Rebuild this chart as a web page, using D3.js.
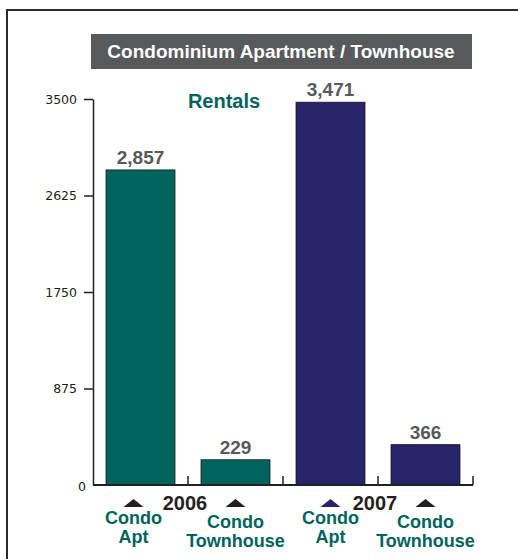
<!DOCTYPE html>
<html>
<head>
<meta charset="utf-8">
<script src="https://cdn.jsdelivr.net/npm/d3@7"></script>
<style>
  body { margin: 0; background: #fff; }
  text { font-family: "Liberation Sans", Arial, sans-serif; }
</style>
</head>
<body>
<div id="chart-area"></div>
<script>
// SVG Size
var width = 518,
	height = 559;

// chart data
var categories = ["2006 Condo Apt", "2006 Condo Townhouse", "2007 Condo Apt", "2007 Condo Townhouse"];
var values = [2857, 229, 3471, 366];
var years = ["2006", "2006", "2007", "2007"];
var labelTop = ["Condo", "Condo", "Condo", "Condo"];
var labelBottom = ["Apt", "Townhouse", "Apt", "Townhouse"];
var yearLabels = ["2006", "2007"];
var yTicks = [0, 875, 1750, 2625, 3500];

var teal = "#00645e",
	navy = "#28236a",
	ink = "#231f20";

let svg = d3.select("#chart-area")
	.append("svg")
	.attr("width", width)
	.attr("height", height);

// frame
svg.append("path")
	.attr("d", "M7,600 L7,10 L600,10")
	.attr("fill", "none")
	.attr("stroke", "#2b2b2b")
	.attr("stroke-width", 2);

// title box
svg.append("rect")
	.attr("x", 91).attr("y", 34)
	.attr("width", 381).attr("height", 35)
	.attr("fill", "#58595b");

svg.append("text")
	.text("Condominium Apartment / Townhouse")
	.attr("x", 281).attr("y", 58)
	.attr("text-anchor", "middle")
	.style("font-size", "19px")
	.style("font-weight", "bold")
	.style("fill", "#fff");

// scales
let xScale = d3.scaleBand()
	.domain(categories)
	.range([93, 473])
	.paddingInner(0.274)
	.paddingOuter(0.137);

let yScale = d3.scaleLinear()
	.domain([0, 3500])
	.range([485, 99]);

let colorScale = d3.scaleOrdinal()
	.domain(yearLabels)
	.range([teal, navy]);

// bars
svg.selectAll("rect.bar")
	.data(values)
	.enter()
	.append("rect")
	.attr("class", "bar")
	.attr("x", function(d, i){ return xScale(categories[i]); })
	.attr("y", function(d){ return yScale(d); })
	.attr("width", xScale.bandwidth())
	.attr("height", function(d){ return yScale(0) - yScale(d); })
	.attr("fill", function(d, i){ return colorScale(years[i]); })
	.attr("stroke", "#1a1a1a")
	.attr("stroke-width", 0.8);

// value labels
svg.selectAll("text.value")
	.data(values)
	.enter()
	.append("text")
	.attr("class", "value")
	.text(function(d){ return d3.format(",")(d); })
	.attr("x", function(d, i){ return xScale(categories[i]) + xScale.bandwidth() / 2; })
	.attr("y", function(d){ return yScale(d) - 6; })
	.attr("text-anchor", "middle")
	.style("font-size", "19px")
	.style("font-weight", "bold")
	.style("fill", "#595959");

// y axis (zero gets no tick, its label is drawn on its own)
let yAxis = d3.axisLeft(yScale)
	.tickValues(yTicks.filter(function(d){ return d !== 0; }))
	.tickSize(9)
	.tickSizeOuter(0)
	.tickPadding(7)
	.tickFormat(d3.format("d"));

let yg = svg.append("g")
	.attr("transform", "translate(93,0)")
	.call(yAxis);

yg.select(".domain").attr("stroke", ink).attr("stroke-width", 1.5);
yg.selectAll(".tick line").attr("stroke", ink).attr("stroke-width", 1.5);
yg.selectAll(".tick text")
	.style("font-size", "12.5px")
	.style("font-family", "'DejaVu Sans', sans-serif")
	.style("fill", ink);

svg.append("text")
	.text(yTicks[0])
	.attr("x", 86)
	.attr("y", yScale(yTicks[0]) + 6)
	.attr("text-anchor", "end")
	.style("font-size", "12.5px")
	.style("font-family", "'DejaVu Sans', sans-serif")
	.style("fill", ink);

// x axis with inward ticks at band boundaries
let boundaryScale = d3.scaleLinear()
	.domain([0, categories.length])
	.range([93, 473]);

svg.append("line")
	.attr("x1", boundaryScale(0)).attr("x2", boundaryScale(categories.length))
	.attr("y1", yScale(0)).attr("y2", yScale(0))
	.attr("stroke", ink).attr("stroke-width", 2);

svg.selectAll("line.xtick")
	.data(d3.range(1, categories.length + 1))
	.enter()
	.append("line")
	.attr("class", "xtick")
	.attr("x1", function(d){ return boundaryScale(d); })
	.attr("x2", function(d){ return boundaryScale(d); })
	.attr("y1", yScale(0))
	.attr("y2", yScale(0) - 9)
	.attr("stroke", ink)
	.attr("stroke-width", 1.5);

// Rentals label
svg.append("text")
	.text("Rentals")
	.attr("x", 224).attr("y", 108)
	.attr("text-anchor", "middle")
	.style("font-size", "20px")
	.style("font-weight", "bold")
	.style("fill", teal);

// label centre under each bar (first one sits a bit left)
function labelX(i) {
	return xScale(categories[i]) + xScale.bandwidth() / 2 + (i === 0 ? -7 : 0);
}

// triangles
svg.selectAll("path.tri")
	.data(categories)
	.enter()
	.append("path")
	.attr("class", "tri")
	.attr("d", function(d, i){
		var cx = labelX(i);
		return "M" + (cx - 10) + ",507 L" + cx + ",499 L" + (cx + 10) + ",507 Z";
	})
	.attr("fill", function(d, i){ return i === 2 ? navy : ink; });

// year labels
svg.selectAll("text.year")
	.data(yearLabels)
	.enter()
	.append("text")
	.attr("class", "year")
	.text(function(d){ return d; })
	.attr("x", function(d, i){ return boundaryScale(1 + 2 * i) - 3; })
	.attr("y", 510)
	.attr("text-anchor", "middle")
	.style("font-size", "20px")
	.style("font-weight", "bold")
	.style("fill", ink);

// category labels, two lines each
svg.selectAll("text.cat")
	.data(categories)
	.enter()
	.append("text")
	.attr("class", "cat")
	.attr("text-anchor", "middle")
	.style("font-size", "18px")
	.style("font-weight", "bold")
	.style("fill", teal)
	.each(function(d, i){
		var t = d3.select(this);
		var apt = labelBottom[i] === "Apt";
		t.append("tspan")
			.attr("x", labelX(i))
			.attr("y", apt ? 524 : 528)
			.text(labelTop[i]);
		t.append("tspan")
			.attr("x", labelX(i))
			.attr("y", apt ? 543 : 547)
			.text(labelBottom[i]);
	});
</script>
</body>
</html>
